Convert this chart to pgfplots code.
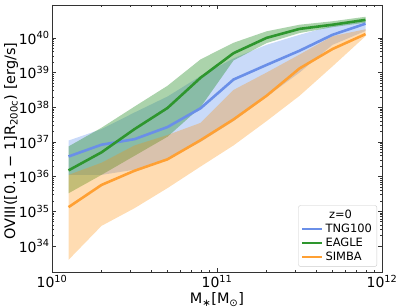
\documentclass[border=0pt]{standalone}
\usepackage{pgfplots}
\pgfplotsset{compat=1.18}
\usepackage{fontspec}
\setmainfont{DejaVu Sans}
\definecolor{tngc}{HTML}{6495ED}
\definecolor{eagc}{HTML}{228B22}
\definecolor{simc}{HTML}{FF8C00}
\definecolor{tngl}{HTML}{6A8FE8}
\definecolor{eagl}{HTML}{2E962E}
\definecolor{siml}{HTML}{FFA033}
\begin{document}
\begin{tikzpicture}
\useasboundingbox (0,0) rectangle (399bp,308bp);
\begin{axis}[
  at={(52bp,36bp)}, anchor=south west, scale only axis,
  width=330bp, height=267bp,
  xmode=log, ymode=log,
  xmin=1e10, xmax=1e12, ymin=1.78e33, ymax=8.9e40,
  xtick={1e10,1e11,1e12},
  xticklabels={10\textsuperscript{10},10\textsuperscript{11},10\textsuperscript{12}},
  ytick={1e34,1e35,1e36,1e37,1e38,1e39,1e40},
  yticklabels={10\textsuperscript{34},10\textsuperscript{35},10\textsuperscript{36},10\textsuperscript{37},10\textsuperscript{38},10\textsuperscript{39},10\textsuperscript{40}},
  tick label style={font=\fontsize{14}{16}\selectfont},
  yticklabel style={xshift=1bp},
  major tick length=4bp, minor tick length=2bp,
  tick style={black!80, line width=0.6pt},
  axis line style={line width=0.8pt, black!80},
  xlabel={M\textsubscript{∗}[M\textsubscript{⊙}]},
  ylabel={OVIII([0.1 − 1]R\textsubscript{200c}) [erg/s]},
  xlabel style={font=\fontsize{14.5}{16}\selectfont, yshift=2bp},
  ylabel style={font=\fontsize{14.5}{16}\selectfont, at={(axis description cs:-0.124,0.49)}, anchor=center},
  legend cell align=left,
  legend style={at={(rel axis cs:0.985,0.02)}, anchor=south east,
    draw=black!20, rounded corners=2pt, font=\fontsize{11.5}{13}\selectfont,
    row sep=0pt, inner sep=2.5pt},
  legend image code/.code={\draw[#1, line width=2.6pt] (0bp,0bp) -- (20bp,0bp);},
]
% bands
\addplot[forget plot, draw=none, fill=tngc, fill opacity=0.35] coordinates {
 (1.259e10,1.096e37) (1.995e10,2.344e37) (3.162e10,7.079e37) (5.012e10,2.042e38) (7.943e10,7.943e38)
 (1.259e11,2.570e39) (1.995e11,6.310e39) (3.162e11,1.230e40) (5.012e11,2.239e40) (7.943e11,3.020e40)
 (7.943e11,1.585e40) (5.012e11,6.310e39) (3.162e11,1.0e39) (1.995e11,1.995e38) (1.259e11,3.981e37)
 (7.943e10,1.0e37) (5.012e10,3.162e36) (3.162e10,1.585e36) (1.995e10,1.122e36) (1.259e10,1.122e36)
};
\addplot[forget plot, draw=none, fill=eagc, fill opacity=0.38] coordinates {
 (1.259e10,7.413e36) (1.995e10,2.570e37) (3.162e10,1.047e38) (5.012e10,4.169e38) (7.943e10,2.399e39)
 (1.259e11,7.244e39) (1.995e11,1.549e40) (3.162e11,2.399e40) (5.012e11,3.020e40) (7.943e11,4.074e40)
 (7.943e11,2.754e40) (5.012e11,2.042e40) (3.162e11,1.380e40) (1.995e11,7.079e39) (1.259e11,2.239e39)
 (7.943e10,1.0e38) (5.012e10,1.413e37) (3.162e10,3.981e36) (1.995e10,1.122e36) (1.259e10,3.311e35)
};
\addplot[forget plot, draw=none, fill=simc, fill opacity=0.3] coordinates {
 (1.259e10,1.122e36) (1.995e10,2.512e36) (3.162e10,7.943e36) (5.012e10,1.585e37) (7.943e10,3.548e37)
 (1.259e11,3.162e38) (1.995e11,1.0e39) (3.162e11,3.311e39) (5.012e11,1.122e40) (7.943e11,1.778e40)
 (7.943e11,1.122e40) (5.012e11,1.514e39) (3.162e11,2.138e38) (1.995e11,3.981e37) (1.259e11,7.943e36)
 (7.943e10,1.950e36) (5.012e10,4.677e35) (3.162e10,1.230e35) (1.995e10,3.802e34) (1.259e10,3.981e33)
};
\addlegendimage{empty legend}
\addlegendentry{\hspace{-17pt}\makebox[64pt][c]{z=0}}
% lines
\addplot[tngl, line width=2.6pt] coordinates {
 (1.259e10,3.802e36) (1.995e10,8.318e36) (3.162e10,1.202e37) (5.012e10,2.692e37) (7.943e10,9.333e37)
 (1.259e11,6.310e38) (1.995e11,1.660e39) (3.162e11,4.266e39) (5.012e11,1.230e40) (7.943e11,2.570e40)
};
\addlegendentry{TNG100}
\addplot[eagl, line width=2.6pt] coordinates {
 (1.259e10,1.514e36) (1.995e10,5.012e36) (3.162e10,2.344e37) (5.012e10,9.550e37) (7.943e10,7.079e38)
 (1.259e11,3.631e39) (1.995e11,1.0e40) (3.162e11,1.820e40) (5.012e11,2.399e40) (7.943e11,3.311e40)
};
\addlegendentry{EAGLE}
\addplot[siml, line width=2.6pt] coordinates {
 (1.259e10,1.318e35) (1.995e10,5.754e35) (3.162e10,1.479e36) (5.012e10,3.162e36) (7.943e10,1.122e37)
 (1.259e11,4.467e37) (1.995e11,2.138e38) (3.162e11,1.318e39) (5.012e11,4.786e39) (7.943e11,1.288e40)
};
\addlegendentry{SIMBA}
\end{axis}
\end{tikzpicture}
\end{document}
